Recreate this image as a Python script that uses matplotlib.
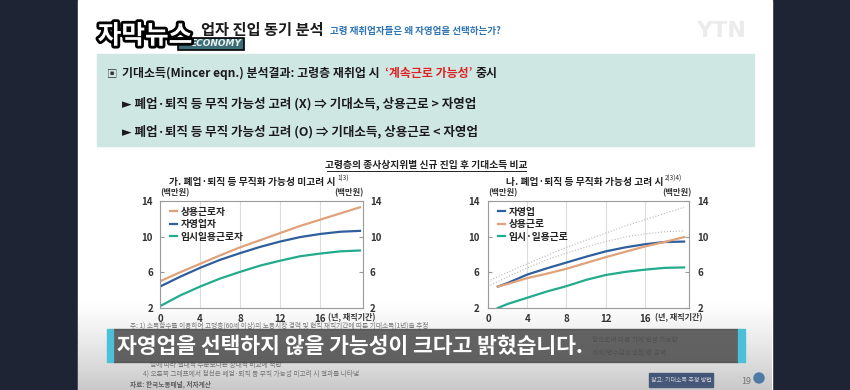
import numpy as np
import matplotlib.pyplot as plt
import matplotlib.patheffects as pe
from matplotlib.patches import Rectangle

plt.rcParams['font.family'] = ['Noto Sans CJK KR', 'DejaVu Sans']

# 가. 무직화 가능성 미고려 (백만원)
years_a = [0, 2, 4, 6, 8, 10, 12, 14, 16, 18, 20]
wage_a = [5.0, 6.0, 6.95, 7.9, 8.8, 9.6, 10.4, 11.2, 11.9, 12.6, 13.3]
self_a = [4.4, 5.5, 6.5, 7.4, 8.15, 8.85, 9.45, 9.95, 10.3, 10.55, 10.65]
temp_a = [2.2, 3.4, 4.4, 5.3, 6.05, 6.75, 7.3, 7.8, 8.1, 8.35, 8.45]

# 나. 무직화 가능성 고려
years_b = [1, 2, 4, 6, 8, 10, 12, 14, 16, 18, 20]
self_b = [4.4, 4.8, 5.75, 6.45, 7.1, 7.75, 8.35, 8.8, 9.15, 9.4, 9.45]
wage_b = [4.4, 4.7, 5.35, 5.85, 6.4, 7.05, 7.7, 8.3, 8.9, 9.4, 9.95]
temp_b = [2.0, 2.45, 3.15, 3.85, 4.45, 5.15, 5.7, 6.05, 6.3, 6.5, 6.55]

yticks = [2, 6, 10, 14]
xticks = [0, 4, 8, 12, 16]

C_WAGE = '#dfa27a'
C_SELF = '#2f5e9c'
C_TEMP = '#22ab8c'

fig = plt.figure(figsize=(8.5, 3.9), dpi=100)

# background / slide layer in pixel coordinates
bg = fig.add_axes([0, 0, 1, 1], zorder=0)
bg.set_xlim(0, 850)
bg.set_ylim(390, 0)
bg.axis('off')
bg.add_patch(Rectangle((0, 0), 850, 390, color='#1e2433'))
bg.add_patch(Rectangle((78, 0), 694, 390, color='white'))

# header
bg.text(201, 30, '업자 진입 동기 분석', fontsize=11, fontweight='bold', va='center', color='#1a1a1a')
bg.text(330, 31, '고령 재취업자들은 왜 자영업을 선택하는가?', fontsize=6.9, fontweight='bold',
        va='center', color='#2e75b6')
bg.text(721, 31, 'YTN', fontsize=16, fontweight='bold', va='center', ha='center',
        color='#ebebeb', family='DejaVu Sans')

# logo
bg.add_patch(Rectangle((178, 38), 66, 12, facecolor='#3d6e77', edgecolor='black', lw=1.2, zorder=3))
bg.text(216, 44, 'ECONOMY', fontsize=6.5, fontweight='bold', style='italic', ha='center', va='center',
        color='#e8f0f0', family='DejaVu Sans', zorder=4)
bg.text(145, 36, '자막뉴스', fontsize=18.5, fontweight='bold', ha='center', va='center', color='white',
        zorder=5, path_effects=[pe.withStroke(linewidth=4, foreground='black')])

# teal summary box
bg.add_patch(Rectangle((97, 54), 657, 92, color='#cfe7e3'))
box_kw = dict(fontsize=9, fontweight='bold', va='center', color='#1a1a1a')
bg.text(107, 73, '▣', fontsize=7.5, va='center', color='#333333')
t1 = bg.text(122, 73, '기대소득(Mincer eqn.) 분석결과: 고령층 재취업 시', fontsize=8.6,
             fontweight='bold', va='center', color='#1a1a1a')
t2 = bg.annotate('‘계속근로 가능성’', xy=(1, 0.5), xycoords=t1, xytext=(4, 0),
                 textcoords='offset points', fontsize=8.6, fontweight='bold', style='italic',
                 va='center', color='#e02020')
bg.annotate('중시', xy=(1, 0.5), xycoords=t2, xytext=(2, 0), textcoords='offset points',
            fontsize=8.6, fontweight='bold', va='center', color='#1a1a1a')
bg.text(122, 104, '► 폐업·퇴직 등 무직 가능성 고려 (X) ⇒ 기대소득, 상용근로 > 자영업', **box_kw)
bg.text(122, 132, '► 폐업·퇴직 등 무직 가능성 고려 (O) ⇒ 기대소득, 상용근로 < 자영업', **box_kw)

# chart group titles
bg.text(426, 165, '고령층의 종사상지위별 신규 진입 후 기대소득 비교', fontsize=7, fontweight='bold',
        ha='center', va='center', color='#222222')
bg.plot([327, 526], [171, 171], color='#222222', lw=0.7)
bg.text(336, 182, '가. 폐업·퇴직 등 무직화 가능성 미고려 시', fontsize=7, fontweight='bold',
        ha='right', va='center', color='#222222')
bg.text(337, 179, '1)3)', fontsize=4.5, ha='left', va='center', color='#222222')
bg.text(664, 182, '나. 폐업·퇴직 등 무직화 가능성 고려 시', fontsize=7, fontweight='bold',
        ha='right', va='center', color='#222222')
bg.text(665, 179, '2)3)4)', fontsize=4.5, ha='left', va='center', color='#222222')
for x0, ha in [(160, 'left'), (364, 'right'), (488, 'left'), (692, 'right')]:
    bg.text(x0, 193, '(백만원)', fontsize=6, fontweight='bold', ha=ha, va='center', color='#333333')
for x0 in [328, 655]:
    bg.text(x0, 318, '(년, 재직기간)', fontsize=5.8, fontweight='bold', ha='left', va='center',
            color='#333333')

# footnotes (partly hidden behind caption)
fn_kw = dict(fontsize=4.8, va='center', color='#777777')
bg.text(130, 326, '주: 1) 소득함수를 이용하여 고령층(60세 이상)의 노동시장 경력 및 현직 재직기간에 따른 기대소득(1년)을 추정', **fn_kw)
bg.text(592, 340, '함으로써 다음 기에 발생 가능한', **fn_kw)
bg.text(592, 353, '제외(변수값 0 설정)한 금액', **fn_kw)
bg.text(150, 365, '임에 따라 절대적 수준보다는 상대적 비교에 적합', **fn_kw)
bg.text(143, 374, '4) 오른쪽 그래프에서 점선은 폐업·퇴직 등 무직 가능성 미고려 시 결과를 나타냄', **fn_kw)
bg.text(130, 384, '자료: 한국노동패널, 저자계산', fontsize=4.8, fontweight='bold', va='center', color='#555555')
bg.add_patch(Rectangle((649, 373), 64, 14, color='#2f4a7e', zorder=2))
bg.text(681, 380, '참고: 기대소득 추정 방법', fontsize=4.3, ha='center', va='center', color='white', zorder=3)
bg.text(746, 381, '19', fontsize=6.5, ha='center', va='center', color='#777777')
bg.add_patch(plt.Circle((759, 378), 5, color='#3d7fc0', zorder=3))

# bottom darkening of the video frame
grad = np.zeros((100, 1, 4))
grad[..., :3] = 0.45
grad[..., 3] = np.linspace(0, 0.45, 100)[:, None] ** 1.2
bg.imshow(grad, extent=[78, 772, 390, 300], aspect='auto', zorder=6)

# caption bar
bg.add_patch(Rectangle((113, 329), 625, 33, color='#4a4a4a', alpha=0.85, zorder=7))
bg.add_patch(Rectangle((107, 329), 6, 33, color='#4cc0d8', zorder=7))
bg.add_patch(Rectangle((738, 329), 7, 33, color='#4cc0d8', zorder=7))
bg.text(117, 346, '자영업을 선택하지 않을 가능성이 크다고 밝혔습니다.', fontsize=15.5, fontweight='bold',
        va='center', color='white', zorder=8)
bg.set_xlim(0, 850)
bg.set_ylim(390, 0)


def style_axes(ax, xmax):
    ax.set_facecolor('none')
    ax.set_xlim(0, xmax)
    ax.set_ylim(2, 14)
    ax.set_xticks(xticks)
    ax.set_yticks(yticks)
    ax.grid(axis='x', color='#dcdcdc', lw=0.8)
    ax.tick_params(axis='x', length=0, pad=4, labelsize=7, labelcolor='#333333')
    ax.tick_params(axis='y', direction='in', length=3, color='#999999', labelsize=7,
                   labelcolor='#333333', left=True, right=True, labelleft=True, labelright=True)
    for lab in ax.get_xticklabels() + ax.get_yticklabels():
        lab.set_fontweight('bold')
    for sp in ax.spines.values():
        sp.set_color('#9a9a9a')
        sp.set_linewidth(0.8)


px = lambda v: v / 850
py = lambda v: v / 390

ax1 = fig.add_axes([px(160), py(390 - 308), px(203), py(107)], zorder=2)
ax1.plot(years_a, wage_a, color=C_WAGE, lw=1.6, label='상용근로자')
ax1.plot(years_a, self_a, color=C_SELF, lw=1.6, label='자영업자')
ax1.plot(years_a, temp_a, color=C_TEMP, lw=1.6, label='임시일용근로자')
style_axes(ax1, 20.3)
ax1.tick_params(axis='y', pad=5)

ax2 = fig.add_axes([px(488), py(390 - 308), px(201), py(107)], zorder=2)
ax2.plot(years_a, wage_a, color='#b8b8b8', lw=0.8, ls=':')
ax2.plot(years_a, self_a, color='#b8b8b8', lw=0.8, ls=':')
ax2.plot(years_b, self_b, color=C_SELF, lw=1.6, label='자영업')
ax2.plot(years_b, wage_b, color=C_WAGE, lw=1.6, label='상용근로')
ax2.plot(years_b, temp_b, color=C_TEMP, lw=1.6, label='임시·일용근로')
style_axes(ax2, 20.5)
ax2.tick_params(axis='y', pad=6)

for ax in (ax1, ax2):
    leg = ax.legend(loc='upper left', bbox_to_anchor=(0.02, 1.0), frameon=False, handlelength=0.7,
                    handletextpad=0.4, labelspacing=0.25, borderaxespad=0.2,
                    prop={'size': 7, 'weight': 'bold'})
    for t in leg.get_texts():
        t.set_color('#222222')

fig.savefig('out.png', dpi=100)
